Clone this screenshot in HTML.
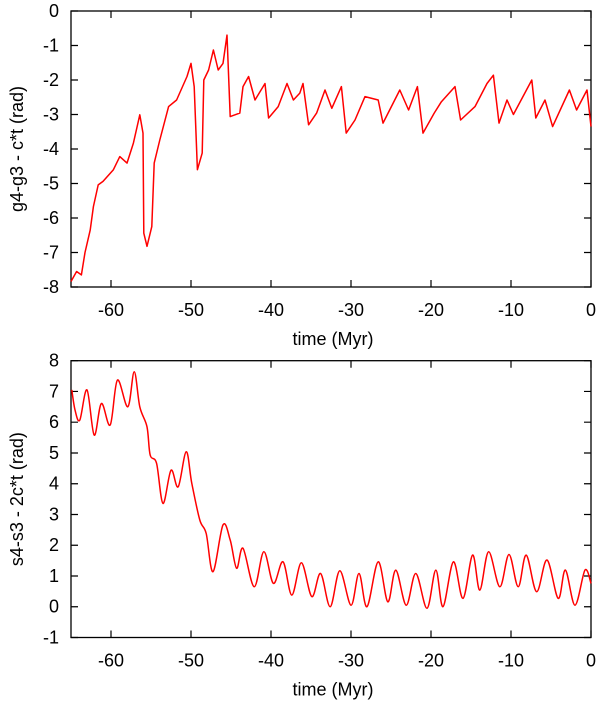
<!DOCTYPE html>
<html><head><meta charset="utf-8"><style>
body{margin:0;background:#fff}
svg{display:block;font-family:"Liberation Sans",sans-serif;font-size:18px}
</style></head><body>
<svg id="c" width="600" height="702" viewBox="0 0 600 702" xmlns="http://www.w3.org/2000/svg"></svg>
<script>
const xTicks=[-60,-50,-40,-30,-20,-10,0];
const topYTicks=[0,-1,-2,-3,-4,-5,-6,-7,-8];
const botYTicks=[8,7,6,5,4,3,2,1,0,-1];
const topT=[-65,-64.3,-63.7,-63.25,-62.6,-62.2,-61.6,-61.0,-59.7,-58.9,-58.0,-57.2,-56.4,-56.0,-55.9,-55.5,-54.9,-54.6,-53.9,-52.8,-51.8,-50.5,-50.0,-49.6,-49.2,-48.6,-48.4,-47.8,-47.2,-46.6,-46.0,-45.5,-45.1,-43.9,-43.5,-42.8,-42.0,-40.75,-40.3,-39.1,-38.0,-37.2,-36.4,-36.0,-35.3,-34.3,-33.25,-32.4,-31.2,-30.6,-29.5,-28.25,-26.6,-26.0,-23.9,-22.8,-21.7,-21.0,-19.6,-18.7,-17.0,-16.3,-14.5,-13.0,-12.2,-11.5,-10.5,-9.7,-7.4,-6.9,-5.75,-4.8,-2.7,-1.8,-0.5,0];
const topV=[-7.84,-7.55,-7.65,-7.0,-6.35,-5.67,-5.04,-4.94,-4.6,-4.22,-4.41,-3.83,-3.01,-3.54,-6.44,-6.82,-6.25,-4.41,-3.74,-2.77,-2.58,-1.9,-1.52,-2.19,-4.6,-4.12,-2.0,-1.71,-1.13,-1.71,-1.52,-0.7,-3.06,-2.96,-2.19,-1.9,-2.58,-2.1,-3.1,-2.77,-2.1,-2.58,-2.38,-2.1,-3.3,-2.96,-2.29,-2.82,-2.19,-3.54,-3.16,-2.48,-2.58,-3.25,-2.29,-2.87,-2.19,-3.54,-2.96,-2.63,-2.19,-3.16,-2.77,-2.1,-1.86,-3.25,-2.58,-3.0,-2.0,-3.1,-2.58,-3.35,-2.29,-2.87,-2.29,-3.35];
const botT=[-64.9,-64.5,-63.9,-63.0,-62.1,-61.2,-60.1,-59.2,-57.9,-57.1,-56.4,-55.5,-55.1,-54.3,-53.5,-52.5,-51.6,-50.6,-49.9,-48.9,-48.1,-47.25,-46.0,-45.1,-44.3,-43.5,-42.1,-40.9,-39.7,-38.5,-37.4,-36.2,-34.9,-33.8,-32.6,-31.4,-30.0,-29.0,-28.0,-26.6,-25.4,-24.4,-23.1,-21.9,-20.5,-19.4,-18.5,-17.2,-16.0,-14.8,-13.9,-12.8,-11.4,-10.25,-9.1,-8.1,-6.8,-5.5,-4.1,-3.2,-2.0,-0.75,0];
const botV=[7.05,6.4,6.07,7.05,5.58,6.61,5.91,7.37,6.5,7.64,6.5,5.85,4.93,4.66,3.36,4.44,3.9,5.04,4.01,2.82,2.38,1.14,2.66,2.17,1.25,1.9,0.65,1.79,0.76,1.46,0.38,1.43,0.33,1.08,0,1.17,0.05,1.08,0,1.46,0.16,1.19,0.05,1.08,-0.05,1.19,0,1.46,0.27,1.68,0.54,1.79,0.65,1.7,0.65,1.68,0.49,1.52,0.27,1.19,0.05,1.19,0.76];

const svg=document.getElementById('c');
const NS='http://www.w3.org/2000/svg';
function mk(tag,attrs,parent){const e=document.createElementNS(NS,tag);for(const k in attrs)e.setAttribute(k,attrs[k]);(parent||svg).appendChild(e);return e;}
const L=71,R=591;
const xs=t=>L+(t+65)/65*(R-L);

function smoothPath(P){
  let d='M'+P[0][0].toFixed(1)+','+P[0][1].toFixed(1);
  for(let i=0;i<P.length-1;i++){
    const p0=P[Math.max(0,i-1)],p1=P[i],p2=P[i+1],p3=P[Math.min(P.length-1,i+2)];
    const c1x=p1[0]+(p2[0]-p0[0])/6,c1y=p1[1]+(p2[1]-p0[1])/6;
    const c2x=p2[0]-(p3[0]-p1[0])/6,c2y=p2[1]-(p3[1]-p1[1])/6;
    d+=`C${c1x.toFixed(1)},${c1y.toFixed(1)} ${c2x.toFixed(1)},${c2y.toFixed(1)} ${p2[0].toFixed(1)},${p2[1].toFixed(1)}`;
  }
  return d;
}

function panel(name,top,bot,ymax,ymin,yTicks,T,V,title,smooth){
  const g=mk('g',{});
  
  
  const ys=v=>top+(ymax-v)/(ymax-ymin)*(bot-top);
  const frame=mk('rect',{x:L,y:top,width:R-L,height:bot-top,fill:'none',stroke:'#000','stroke-width':1.3},g);
  
  
  xTicks.forEach(t=>{
    const x=xs(t);
    const tk=mk('path',{d:`M${x},${bot}v-7M${x},${top}v7`,stroke:'#000','stroke-width':1.2},g);
    
    
    const tx=mk('text',{x:x,y:bot+29,'text-anchor':'middle'},g);
    tx.textContent=t;
    
    
  });
  yTicks.forEach(v=>{
    const y=ys(v);
    const tk=mk('path',{d:`M${L},${y}h7M${R},${y}h-7`,stroke:'#000','stroke-width':1.2},g);
    
    
    const tx=mk('text',{x:59,y:y+6,'text-anchor':'end'},g);
    tx.textContent=v;
    
    
  });
  const xt=mk('text',{x:333,y:bot+58,'text-anchor':'middle'},g);
  xt.textContent='time (Myr)';
  
  
  const cy=(top+bot)/2;
  const yt=mk('text',{x:0,y:0,'text-anchor':'middle',transform:`translate(23,${cy}) rotate(-90)`},g);
  yt.textContent=title;
  
  
  const P=T.map((t,i)=>[xs(t),ys(V[i])]);
  const d=smooth?smoothPath(P):P.map((p,i)=>(i?'L':'M')+p[0].toFixed(1)+','+p[1].toFixed(1)).join('');
  const p=mk('path',{d:d,fill:'none',stroke:'#f00','stroke-width':1.5,'stroke-linejoin':'round'},g);
  
  
}
panel('top',11,287,0,-8,topYTicks,topT,topV,'g4-g3 - c*t (rad)',false);
panel('bottom',360.7,637.5,8,-1,botYTicks,botT,botV,'s4-s3 - 2c*t (rad)',true);
</script>
</body></html>
